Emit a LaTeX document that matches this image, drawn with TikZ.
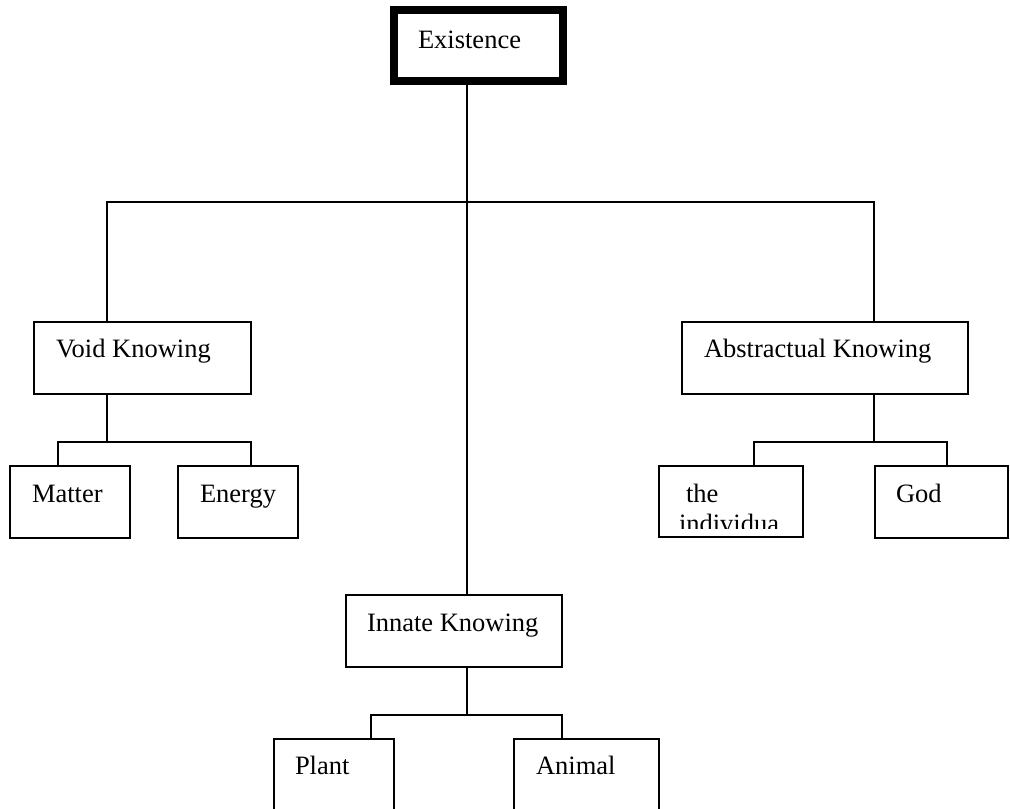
\documentclass[tikz,border=0pt]{standalone}
\usepackage{fontspec}
\setmainfont{Liberation Serif}
\begin{document}
\begin{tikzpicture}[x=1pt,y=-1pt,
  box/.style={draw, line width=2pt, rectangle, inner sep=0pt, outer sep=0pt},
  rootbox/.style={draw, line width=8pt, rectangle, inner sep=0pt, outer sep=0pt},
  lbl/.style={anchor=base west, inner sep=0pt, outer sep=0pt,
              font=\fontsize{26.5}{30}\selectfont},
  link/.style={line width=2pt}]
\clip (0,0) rectangle (1010,809);
\fill[white] (0,0) rectangle (1010,809);

% boxes (centre, width, height of the border path)
\node[rootbox, minimum width=169pt, minimum height=71pt] (exist) at (478.5,45.5) {};
\node[box, minimum width=217pt, minimum height=72pt] (void)   at (142.5,358) {};
\node[box, minimum width=286pt, minimum height=72pt] (abs)    at (825,358) {};
\node[box, minimum width=120pt, minimum height=72pt] (matter) at (70,502) {};
\node[box, minimum width=120pt, minimum height=72pt] (energy) at (238,502) {};
\node[box, minimum width=144pt, minimum height=71pt] (indiv)  at (731,501.5) {};
\node[box, minimum width=133pt, minimum height=72pt] (god)    at (941.5,502) {};
\node[box, minimum width=216pt, minimum height=72pt] (innate) at (454,631) {};
\node[box, minimum width=120pt, minimum height=80pt] (plant)  at (334,779) {};
\node[box, minimum width=145pt, minimum height=80pt] (animal) at (586.5,779) {};

% labels
\node[lbl] (texist)  at (418,48)  {Existence};
\node[lbl] (tvoid)   at (56,357)  {Void Knowing};
\node[lbl] (tabs)    at (704,357) {Abstractual Knowing};
\node[lbl] (tmatter) at (32,502)  {Matter};
\node[lbl] (tenergy) at (200,502) {Energy};
\node[lbl] (tthe)    at (686,502) {the};
\begin{scope}
  \clip (660,505) rectangle (802,528);
  \node[lbl] (tindiv) at (679,532) {individua};
\end{scope}
\node[lbl] (tgod)    at (896,502) {God};
\node[lbl] (tinnate) at (367,631) {Innate Knowing};
\node[lbl] (tplant)  at (295,774) {Plant};
\node[lbl] (tanimal) at (536,774) {Animal};

% junction points and drop points on the box tops
\coordinate (hub)  at (467,202);
\coordinate (vj)   at (107,442);
\coordinate (aj)   at (874,442);
\coordinate (ij)   at (467,715);
\coordinate (mtop) at (58,466);
\coordinate (etop) at (251,466);
\coordinate (itop) at (754,466);
\coordinate (gtop) at (947,466);
\coordinate (ptop) at (371,739);
\coordinate (ntop) at (562,739);
\coordinate (ebot) at (467,85);

% connectors
\draw[link] (ebot) -- (innate.north -| ebot);
\draw[link] (void.north -| vj) |- (hub) -| (abs.north -| aj);
\draw[link] (void.south -| vj) -- (vj);
\draw[link] (mtop) |- (vj) -| (etop);
\draw[link] (abs.south -| aj) -- (aj);
\draw[link] (itop) |- (aj) -| (gtop);
\draw[link] (innate.south -| ij) -- (ij);
\draw[link] (ptop) |- (ij) -| (ntop);
\end{tikzpicture}
\end{document}
